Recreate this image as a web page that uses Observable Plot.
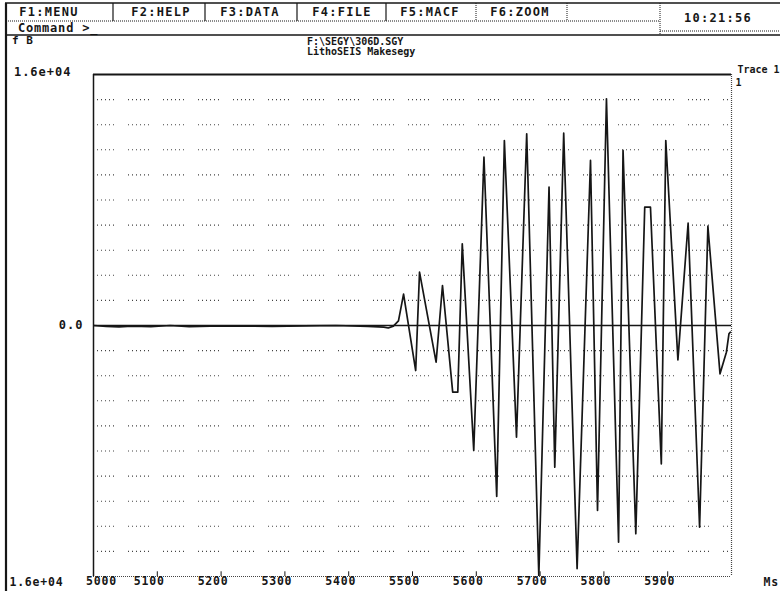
<!DOCTYPE html>
<html><head><meta charset="utf-8">
<script src="https://cdn.jsdelivr.net/npm/d3@7"></script>
<script src="https://cdn.jsdelivr.net/npm/@observablehq/plot@0.6"></script>
<style>
html,body{margin:0;padding:0;background:#fff;}
svg text{letter-spacing:1px;}
svg g[font-size="11.5"] text{letter-spacing:0.8px;}
svg g[font-size="10"] text{letter-spacing:0px;}
</style></head><body>
<script>
// ---- data ----
const traceMs  = [5000,5020,5040,5060,5090,5120,5150,5200,5280,5330,5380,5430,5455,5462,5470,5478,
  5486,5505,5511,5537,5547,5563,5571,5578,5596,5612,5632,5644,5663,5679,5698,5714,5723,5737,5758,
  5779,5790,5804,5823,5830,5850,5864,5873,5890,5897,5916,5932,5950,5963,5982,5992,5996,5998];
const traceAmp = [0,-60,-90,-40,-80,0,-70,-20,-60,-20,0,-60,-100,-160,-40,300,
  2000,-2870,3400,-2340,2550,-4250,-4250,5210,-7970,10730,-10900,11790,-7120,12220,-16000,8820,-9030,12260,-15500,
  10520,-11790,14450,-13810,11160,-13280,7540,7540,-8820,11790,-2190,6520,-12860,6330,-3080,-1700,-530,-430];
const gridAmp = [14400,12800,11200,9600,8000,6400,4800,3200,1600,-1600,-3200,-4800,-6400,-8000,-9600,-11200,-12800,-14400];
const xTickMs = [5000,5100,5200,5300,5400,5500,5600,5700,5800,5900];
const xTickLabels = ["5000","5100","5200","5300","5400","5500","5600","5700","5800","5900"];
const yTickAmp = [16000,0,-16000];
const yTickLabels = ["1.6e+04","0.0","1.6e+04"];
const menuLabels = ["F1:MENU","F2:HELP","F3:DATA","F4:FILE","F5:MACF","F6:ZOOM"];
const clockText = "10:21:56";
const commandText = "Command >_";
const cornerText = "f B";
const titleLines = ["F:\\SEGY\\306D.SGY","LithoSEIS Makesegy"];
const traceLabel = "Trace 1";
const traceNumber = "1";
const unitLabel = "Ms";

const trace = traceMs.map((t,i)=>({t, v: traceAmp[i]}));
const xRows = xTickMs.map((t,i)=>({t, label: xTickLabels[i]}));
const yRows = yTickAmp.map((v,i)=>({v, label: yTickLabels[i]}));

const ink = "#161616";
const chart = Plot.plot({
  width: 780, height: 591,
  marginLeft: 93, marginRight: 49, marginTop: 74, marginBottom: 15,
  x: {domain: [5000, 6000], axis: null},
  y: {domain: [-16000, 16000], axis: null},
  style: {fontFamily: "DejaVu Sans Mono, monospace", fontWeight: "bold", background: "#fff", color: ink, overflow: "visible"},
  marks: [
    Plot.ruleY(gridAmp, {stroke: "#444", strokeWidth: 1.1, strokeDasharray: "1,3,1,3,1,3,1,3,1,3,1,14"}),
    Plot.ruleY([0], {stroke: ink, strokeWidth: 1.6}),
    Plot.line(trace, {x: "t", y: "v", stroke: ink, strokeWidth: 1.7, clip: true}),
    Plot.ruleY([16000], {stroke: ink, strokeWidth: 2}),
    Plot.ruleX([5000], {stroke: ink, strokeWidth: 1.5}),
    Plot.ruleX([6000], {stroke: "#444", strokeWidth: 1.2, strokeDasharray: "1,1"}),
    Plot.ruleY([-16000], {stroke: "#444", strokeWidth: 1.2, strokeDasharray: "1,1"}),
    Plot.ruleX(xTickMs.slice(1), {y1: -16000, y2: -15700, stroke: ink, strokeWidth: 1}),
    Plot.text(yRows.slice(0,1), {y: "v", text: "label", frameAnchor: "left", textAnchor: "end", dx: -22, dy: -2, fontSize: 12, fill: ink}),
    Plot.text(yRows.slice(1,2), {y: "v", text: "label", frameAnchor: "left", textAnchor: "end", dx: -10, fontSize: 12, fill: ink}),
    Plot.text(yRows.slice(2), {y: "v", text: "label", frameAnchor: "left", textAnchor: "end", dx: -30, dy: 6, fontSize: 11.5, fill: ink}),
    Plot.text(xRows.slice(1), {x: "t", text: "label", frameAnchor: "bottom", dx: -8, dy: 8, fontSize: 11.5, fill: ink}),
    Plot.text(xRows.slice(0,1), {x: "t", text: "label", frameAnchor: "bottom", dx: 8, dy: 8, fontSize: 11.5, fill: ink}),
    Plot.text([unitLabel], {frameAnchor: "bottom-right", textAnchor: "start", dx: 32, dy: 9, fontSize: 11.5, fill: ink}),
    Plot.text([traceLabel], {frameAnchor: "top-right", textAnchor: "start", dx: 6, dy: -9, fontSize: 10, fill: ink}),
    Plot.text([traceNumber], {frameAnchor: "top-right", textAnchor: "start", dx: 4, dy: 4, fontSize: 10, fill: ink})
  ]
});
document.body.appendChild(chart);

// ---- screen header (menu bar, titles) ----
const svg = d3.select(chart);
const g = svg.append("g").attr("font-family", "DejaVu Sans Mono, monospace").attr("font-weight", "bold")
  .attr("font-size", 12).attr("fill", ink).attr("text-anchor", "start");
const line = (x1,y1,x2,y2,w,dash) => g.append("line").attr("x1",x1).attr("y1",y1).attr("x2",x2).attr("y2",y2)
  .attr("stroke", ink).attr("stroke-width", w).attr("stroke-dasharray", dash || null);
line(5,3,780,3,1.5);
line(6,3,6,591,2.2);
line(6,21,660,21,1,"1,1");
line(6,35,780,35,1.5);
line(660,31,780,31,1,"1,1");
const sepX = [113,205,297,386,476,567,660];
sepX.forEach((x,i)=> line(x,3,x, i===6?35:21, i<4?1.2:1, i<4?null:"1,1"));
const centers = [49,161,250,342,430,520];
const tx = (x,y,s,anchor,size,ls) => g.append("text").attr("x",x).attr("y",y).attr("dy","0.35em")
  .attr("text-anchor",anchor).attr("font-size",size).style("letter-spacing",ls+"px").text(s);
menuLabels.forEach((s,i)=> tx(centers[i],12,s,"middle",12,1.3));
tx(718,18,clockText,"middle",12,1.3);
tx(18,28,commandText,"start",12,0.8);
tx(12,40,cornerText,"start",11,0.5);
titleLines.forEach((s,i)=> tx(307,41+i*10.5,s,"start",10,0));
</script>
</body></html>
